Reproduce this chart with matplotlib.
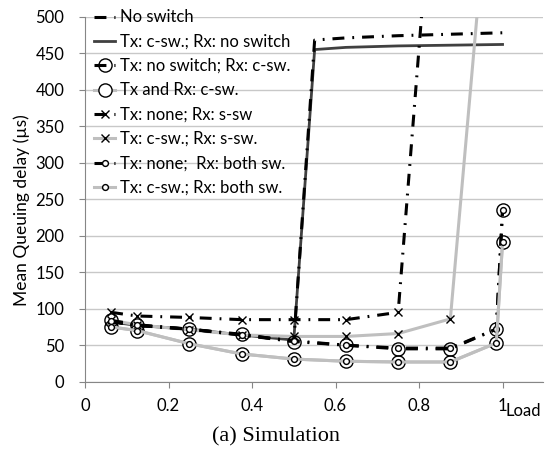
"""Mean queuing delay vs load, simulation results."""
import matplotlib
matplotlib.use('Agg')
import matplotlib.pyplot as plt

plt.rcParams['font.family'] = ['Lato', 'DejaVu Sans']

# ── data ──
load_a = [0.0625, 0.125, 0.25, 0.375, 0.5, 0.55, 0.625, 0.75, 0.875, 1.0]
load_b = [0.0625, 0.125, 0.25, 0.375, 0.5, 0.625, 0.75, 0.875, 0.985, 1.0]
load_c = [0.0625, 0.125, 0.25, 0.375, 0.5, 0.625, 0.75, 0.875, 1.0]

no_switch = [82, 77, 72, 64, 55, 468, 471, 474, 476, 478]
tx_csw_rx_none = [82, 77, 72, 64, 57, 455, 458, 460, 461, 462]
tx_none_rx_csw = [84, 78, 72, 65, 55, 50, 45, 45, 72, 235]
tx_rx_csw = [75, 70, 52, 38, 31, 28, 27, 27, 53, 191]
tx_none_rx_ssw = [95, 90, 88, 85, 85, 85, 95, 1000, 2000]
tx_csw_rx_ssw = [84, 78, 71, 64, 62, 62, 66, 86, 900]
tx_none_rx_both = [83, 77, 72, 64, 56, 50, 46, 46, 72, 235]
tx_csw_rx_both = [75, 70, 52, 38, 31, 28, 27, 27, 53, 191]

y_ticks = list(range(0, 501, 50))
x_ticks = [0, 0.2, 0.4, 0.6, 0.8, 1.0]
x_tick_labels = ['0', '0.2', '0.4', '0.6', '0.8', '1']

BLACK = '#000000'
DARK = '#404040'
GREY = '#bfbfbf'
dashdot = (3.9, 2.6, 0.6, 2.6)

fig = plt.figure(figsize=(5.53, 4.58), dpi=100)
ax = fig.add_axes([0.1537, 0.1666, 0.982 - 0.1537, 0.9635 - 0.1666])

lw = 2.2
ax.plot(load_a, no_switch, color=BLACK, lw=lw, dashes=dashdot,
        solid_capstyle='butt', label='No switch', zorder=3)
ax.plot(load_a, tx_csw_rx_none, color=DARK, lw=2.0,
        label='Tx: c-sw.; Rx: no switch', zorder=2)
ax.plot(load_b, tx_none_rx_csw, color=BLACK, lw=lw, dashes=dashdot,
        marker='o', ms=9.5, mfc='none', mec=BLACK, mew=1.0,
        label='Tx: no switch; Rx: c-sw.', zorder=3)
ax.plot(load_b, tx_rx_csw, color=GREY, lw=lw,
        marker='o', ms=9.5, mfc='white', mec=BLACK, mew=1.0,
        label='Tx and Rx: c-sw.', zorder=2)
ax.plot(load_c, tx_none_rx_ssw, color=BLACK, lw=lw, dashes=dashdot,
        marker='x', ms=6, mec=BLACK, mew=1.0,
        label='Tx: none; Rx: s-sw', zorder=3)
ax.plot(load_c, tx_csw_rx_ssw, color=GREY, lw=lw,
        marker='x', ms=6, mec=BLACK, mew=1.0,
        label='Tx: c-sw.; Rx: s-sw.', zorder=2)
ax.plot(load_b, tx_none_rx_both, color=BLACK, lw=lw, dashes=dashdot,
        marker='o', ms=4.2, mfc='white', mec=BLACK, mew=1.0,
        label='Tx: none;  Rx: both sw.', zorder=4)
ax.plot(load_b, tx_csw_rx_both, color=GREY, lw=lw,
        marker='o', ms=4.2, mfc='white', mec=BLACK, mew=1.0,
        label='Tx: c-sw.; Rx: both sw.', zorder=4)

ax.set_xlim(0, 1.097)
ax.set_ylim(0, 500)
ax.set_yticks(y_ticks)
ax.set_xticks(x_ticks)
ax.set_xticklabels(x_tick_labels)
ax.grid(True, axis='y', color='#c8c8c8', lw=1.0)
ax.set_axisbelow(True)
for side in ('top', 'right'):
    ax.spines[side].set_visible(False)
for side in ('left', 'bottom'):
    ax.spines[side].set_color('#868686')
ax.tick_params(axis='both', colors='#868686', labelcolor='black',
               labelsize=12, length=4, direction='out')
ax.tick_params(axis='x', pad=8)
ax.tick_params(axis='y', pad=11)
ax.set_ylabel('Mean Queuing delay (µs)', fontsize=12.5)
ax.yaxis.set_label_coords(-0.12, 0.47)

leg = ax.legend(loc='upper left', bbox_to_anchor=(0.02, 1.02), frameon=False,
                fontsize=12, handlelength=1.25, handletextpad=0.3,
                labelspacing=0.5, borderpad=0, borderaxespad=0)

fig.text(0.915, 0.102, 'Load', fontsize=12, ha='left', va='center')
fig.text(0.5, 0.046, '(a) Simulation', fontsize=16, ha='center',
         va='center', family='Liberation Serif')

fig.savefig('out.png', dpi=100)
